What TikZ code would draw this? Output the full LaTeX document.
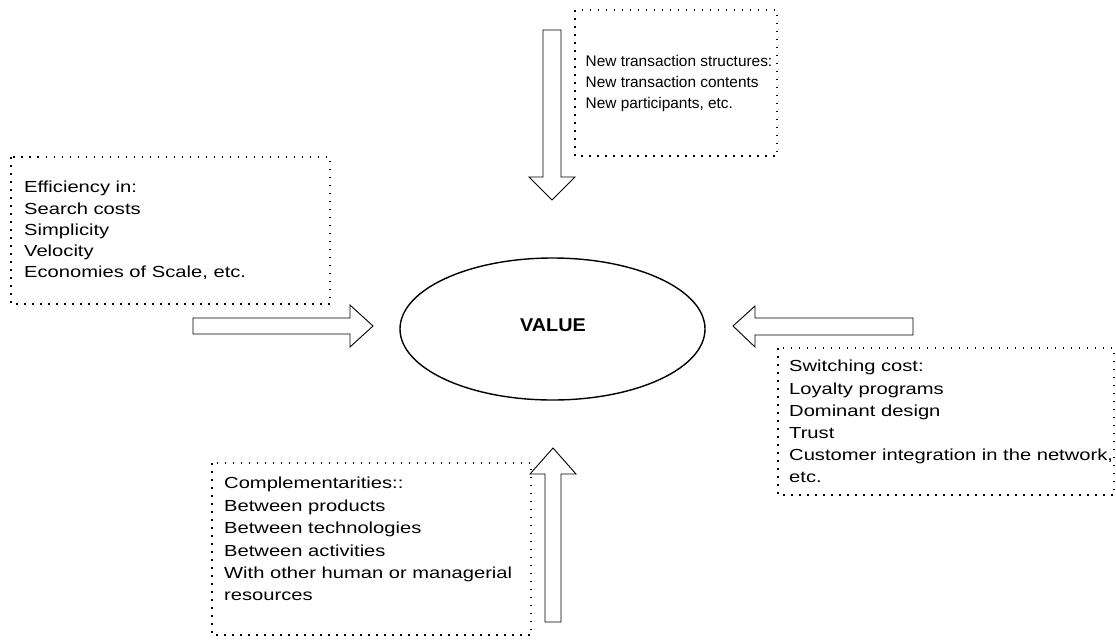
\documentclass[tikz,border=0pt]{standalone}
\usepackage{fontspec}
\setmainfont{Liberation Sans}
\newfontfamily\widefont[FakeStretch=1.26]{Liberation Sans}
\newfontfamily\valuefont[FakeStretch=1.07]{Liberation Sans}
\usetikzlibrary{shapes.geometric}
\begin{document}
\begin{tikzpicture}[x=1pt,y=-1pt,
  dotbox/.style={draw, line width=1.5pt, dash pattern=on 1.5pt off 6.5pt},
  blockarrow/.style={draw, line width=0.9pt, fill=white, line join=miter},
  boxtext/.style={anchor=north west, align=left, inner sep=0pt}]
\useasboundingbox (0,0) rectangle (1116,643);

% dotted frames
\draw[dotbox] (575,10) rectangle (777,156);
\draw[dotbox] (11,157) rectangle (330,304);
\draw[dotbox] (778,348) rectangle (1114,495);
\draw[dotbox] (212,463) rectangle (531,635);

% central ellipse
\node[draw, line width=1.4pt, ellipse, minimum width=305, minimum height=142,
  inner sep=0pt] (value) at (552.5,329) {};
\node[anchor=base, inner sep=0pt, font=\valuefont\bfseries\fontsize{18.5}{20}\selectfont]
  (valuetext) at (553,331.7) {VALUE};

% block arrows pointing at the ellipse
\draw[blockarrow] (543,30) -- (561,30) -- (561,177) -- (575,177) -- (552,200)
  -- (529,177) -- (543,177) -- cycle;
\draw[blockarrow] (193,318) -- (350,318) -- (350,305) -- (373,326) -- (350,347)
  -- (350,334) -- (193,334) -- cycle;
\draw[blockarrow] (913,318) -- (755,318) -- (755,306) -- (733,326) -- (755,347)
  -- (755,335) -- (913,335) -- cycle;
\draw[blockarrow] (545,622) -- (545,474) -- (530,474) -- (553,448) -- (576,474)
  -- (561,474) -- (561,622) -- cycle;

% texts
\node[boxtext, font=\fontsize{15.4}{21}\selectfont] (tr) at (585.5,55.3)
  {New transaction structures:\\New transaction contents\\New participants, etc.};
\node[boxtext, font=\widefont\fontsize{16}{21.3}\selectfont] (ef) at (24,181)
  {Efficiency in:\\Search costs\\Simplicity\\Velocity\\Economies of Scale, etc.};
\node[boxtext, font=\widefont\fontsize{16}{22.2}\selectfont] (sw) at (789,360)
  {Switching cost:\\Loyalty programs\\Dominant design\\Trust\\Customer integration in the network,\\etc.};
\node[boxtext, font=\widefont\fontsize{16}{22.4}\selectfont] (co) at (224,477)
  {Complementarities::\\Between products\\Between technologies\\Between activities\\With other human or managerial\\resources};
\end{tikzpicture}
\end{document}
